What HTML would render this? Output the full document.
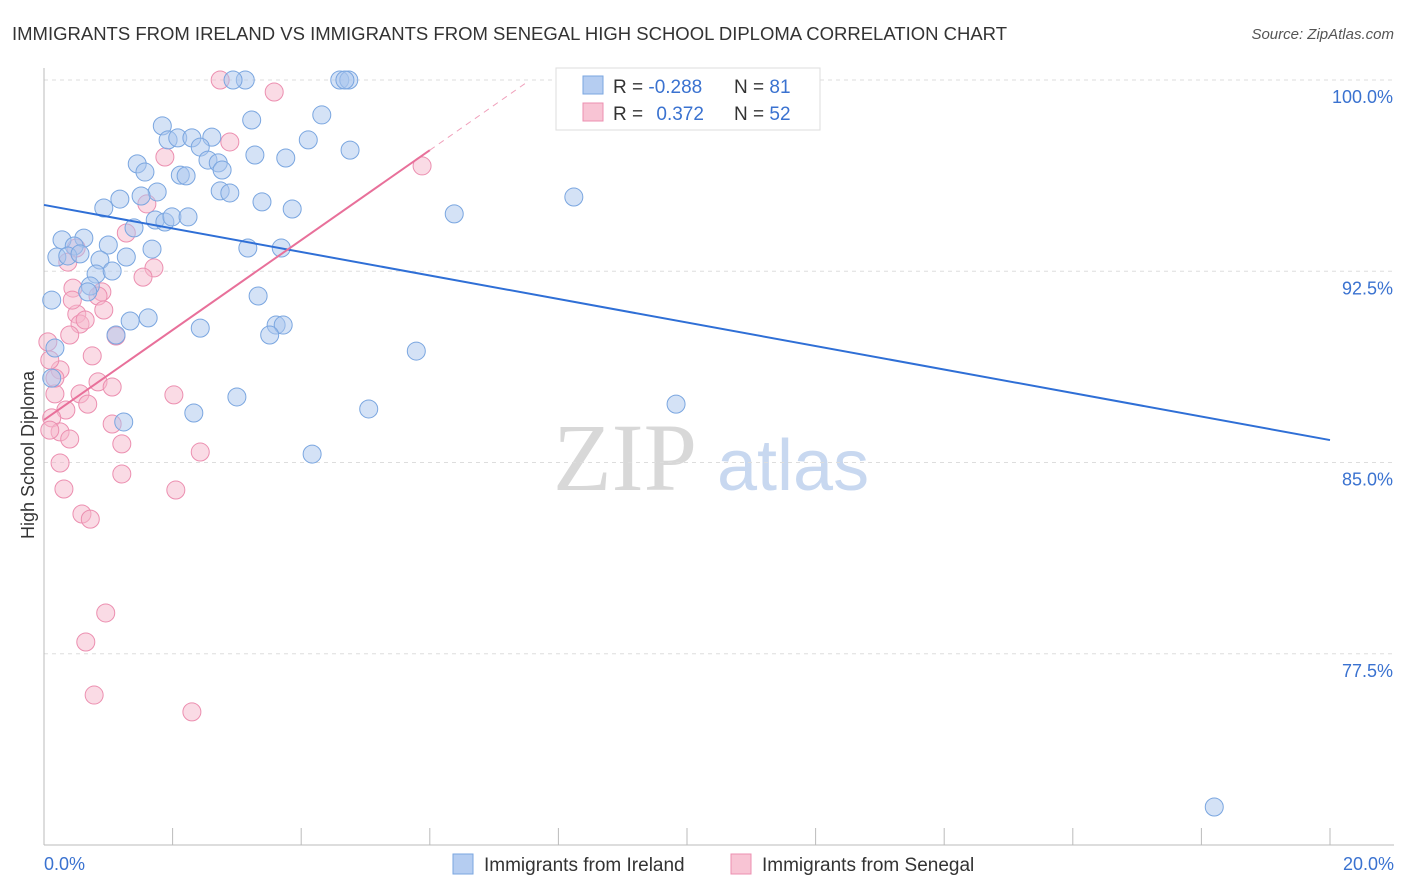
<!DOCTYPE html>
<html><head><meta charset="utf-8"><style>
body{margin:0;background:#fff;font-family:"Liberation Sans",sans-serif}
svg{display:block}
</style></head><body>
<svg width="1406" height="892">
<text x="12" y="40" font-size="18.5" fill="#333">IMMIGRANTS FROM IRELAND VS IMMIGRANTS FROM SENEGAL HIGH SCHOOL DIPLOMA CORRELATION CHART</text>
<text x="1394" y="39" font-size="15" fill="#555" font-style="italic" text-anchor="end">Source: ZipAtlas.com</text>
<g>
<text x="553" y="490" font-size="96" fill="#d8d8d8" font-family="Liberation Serif,serif">ZIP</text>
<text x="717" y="490" font-size="72" fill="#c8d8f0">atlas</text>
</g>
<g id="grid"></g>
<g id="axes"></g>
<g id="marks"></g>
<text transform="translate(34,455) rotate(-90)" font-size="18" fill="#333" text-anchor="middle">High School Diploma</text>
<g>
<rect x="556" y="68" width="264" height="62" fill="#fff" stroke="#ddd"/>
<rect x="583" y="76" width="20" height="18" fill="#b5cdf1" stroke="#7aa6e0"/>
<rect x="583" y="103" width="20" height="18" fill="#f8c4d4" stroke="#ec8fb0"/>
<text x="613" y="93" font-size="19" fill="#333">R = <tspan fill="#3a72d0">-0.288</tspan></text>
<text x="734" y="93" font-size="19" fill="#333">N = <tspan fill="#3a72d0">81</tspan></text>
<text x="613" y="120" font-size="19" fill="#333">R = <tspan fill="#3a72d0" dx="8">0.372</tspan></text>
<text x="734" y="120" font-size="19" fill="#333">N = <tspan fill="#3a72d0">52</tspan></text>
</g>
<g>
<rect x="453" y="854" width="20" height="20" fill="#b5cdf1" stroke="#7aa6e0"/>
<text x="484" y="871" font-size="19" fill="#333">Immigrants from Ireland</text>
<rect x="731" y="854" width="20" height="20" fill="#f8c4d4" stroke="#ec8fb0"/>
<text x="762" y="871" font-size="19" fill="#333">Immigrants from Senegal</text>
</g>
</svg>
<script>
const yTicks=[100,92.5,85,77.5];
const yTickLabels=["100.0%","92.5%","85.0%","77.5%"];
const xTickLabels=["0.0%","20.0%"];
const irelandX=[3.13,2.94,4.60,4.74,4.68,4.32,3.23,1.84,1.93,2.08,2.30,2.61,2.43,4.76,3.28,3.76,2.55,1.45,1.57,2.71,2.77,2.12,2.21,2.74,2.89,1.76,1.51,1.18,0.93,3.39,3.86,4.11,6.38,8.24,11.17,1.73,1.88,1.99,2.24,1.40,0.28,0.62,0.47,1.00,1.68,3.17,3.69,0.20,0.37,0.56,0.87,1.28,0.81,1.06,0.72,0.68,0.12,3.33,1.62,1.34,2.43,3.61,3.72,3.51,1.12,0.17,5.79,0.12,3.00,2.33,1.24,5.05,9.83,4.17,18.20];
const irelandY=[100,100,100,100,100,98.63,98.43,98.20,97.65,97.73,97.73,97.76,97.37,97.25,97.06,96.94,96.86,96.71,96.39,96.75,96.47,96.27,96.24,95.65,95.57,95.61,95.45,95.33,94.98,95.22,94.94,97.65,94.75,95.41,98.43,94.51,94.43,94.63,94.63,94.20,93.73,93.80,93.49,93.53,93.37,93.41,93.41,93.06,93.10,93.18,92.94,93.06,92.39,92.51,91.92,91.69,91.37,91.53,90.67,90.55,90.27,90.39,90.39,90.00,90.00,89.49,89.37,88.31,87.57,86.94,86.59,87.10,87.29,85.33,71.49];
const senegalX=[2.74,3.58,2.89,1.88,5.88,1.60,1.28,0.50,0.37,1.71,1.54,0.45,0.90,0.84,0.93,0.51,0.56,0.64,0.40,1.12,0.06,0.75,0.25,0.84,1.06,0.17,0.56,0.68,2.02,0.34,0.12,1.06,0.25,0.40,1.21,0.09,2.43,0.25,1.21,0.31,2.05,0.59,0.72,0.96,0.65,0.78,2.30,0.17,0.44,0.09];
const senegalY=[100,99.53,97.57,96.98,96.63,95.14,94.00,93.41,92.86,92.63,92.27,91.84,91.69,91.53,90.98,90.82,90.43,90.59,90.00,89.96,89.73,89.18,88.63,88.16,87.96,87.69,87.69,87.29,87.65,87.06,86.75,86.51,86.20,85.92,85.73,86.27,85.41,84.98,84.55,83.96,83.92,82.98,82.78,79.10,77.96,75.88,75.22,88.31,91.37,89.02];
const irelandTrend=[95.10,85.88]; // y at x=0 and x=20
const senegalTrend=[86.67,1.763]; // intercept, slope per %
const NS="http://www.w3.org/2000/svg";
const X0=44,X1=1330,Y0=80,Ypp=25.5;
const xs=v=>X0+(X1-X0)*v/20;
const ys=v=>Y0+(100-v)*Ypp;
function mk(tag,attrs,parent){const e=document.createElementNS(NS,tag);for(const k in attrs)e.setAttribute(k,attrs[k]);parent.appendChild(e);return e;}
const grid=document.getElementById('grid'),axes=document.getElementById('axes'),marks=document.getElementById('marks');
yTicks.forEach((t,i)=>{
 const l=mk('line',{x1:X0,x2:1394,y1:ys(t),y2:ys(t),stroke:'#ddd','stroke-dasharray':'4,4'},grid);
 
 
 const tx=mk('text',{x:1393,y:ys(t)+23,'font-size':18,fill:'#3a72d0','text-anchor':'end'},axes);
 tx.textContent=yTickLabels[i];
 
 
});
const ax=mk('line',{x1:X0,x2:1394,y1:845,y2:845,stroke:'#bbb'},axes);


const ay=mk('line',{x1:X0,x2:X0,y1:68,y2:845,stroke:'#bbb'},axes);


for(let i=0;i<=10;i++){
 const t=mk('line',{x1:xs(i*2),x2:xs(i*2),y1:828,y2:845,stroke:'#bbb'},axes);
 
 
}
[[0,'start',44],[20,'end',1394]].forEach((p,i)=>{
 const tx=mk('text',{x:p[2],y:870,'font-size':18,fill:'#3a72d0','text-anchor':p[1]},axes);
 tx.textContent=xTickLabels[i];
 
 
});
function pts(X,Y,fill,stroke,name){
 X.forEach((x,i)=>{
  const c=mk('circle',{cx:xs(x),cy:ys(Y[i]),r:9,fill:fill,'fill-opacity':0.5,stroke:stroke,'stroke-width':1},marks);
  
  
 });
}
pts(senegalX,senegalY,'#f5b8cb','#ec8fb0','point-senegal');
pts(irelandX,irelandY,'#a9c6ee','#7aa6e0','point-ireland');
const bl=mk('line',{x1:xs(0),y1:ys(irelandTrend[0]),x2:xs(20),y2:ys(irelandTrend[1]),stroke:'#2f6fd6','stroke-width':2},marks);


const sy=x=>senegalTrend[0]+senegalTrend[1]*x;
const pl=mk('line',{x1:xs(0),y1:ys(sy(0)),x2:xs(6),y2:ys(sy(6)),stroke:'#e8709a','stroke-width':2},marks);


const pd=mk('line',{x1:xs(6),y1:ys(sy(6)),x2:xs(7.5),y2:ys(sy(7.5)),stroke:'#f0a0bb','stroke-width':1,'stroke-dasharray':'6,5'},marks);


</script>
</body></html>
